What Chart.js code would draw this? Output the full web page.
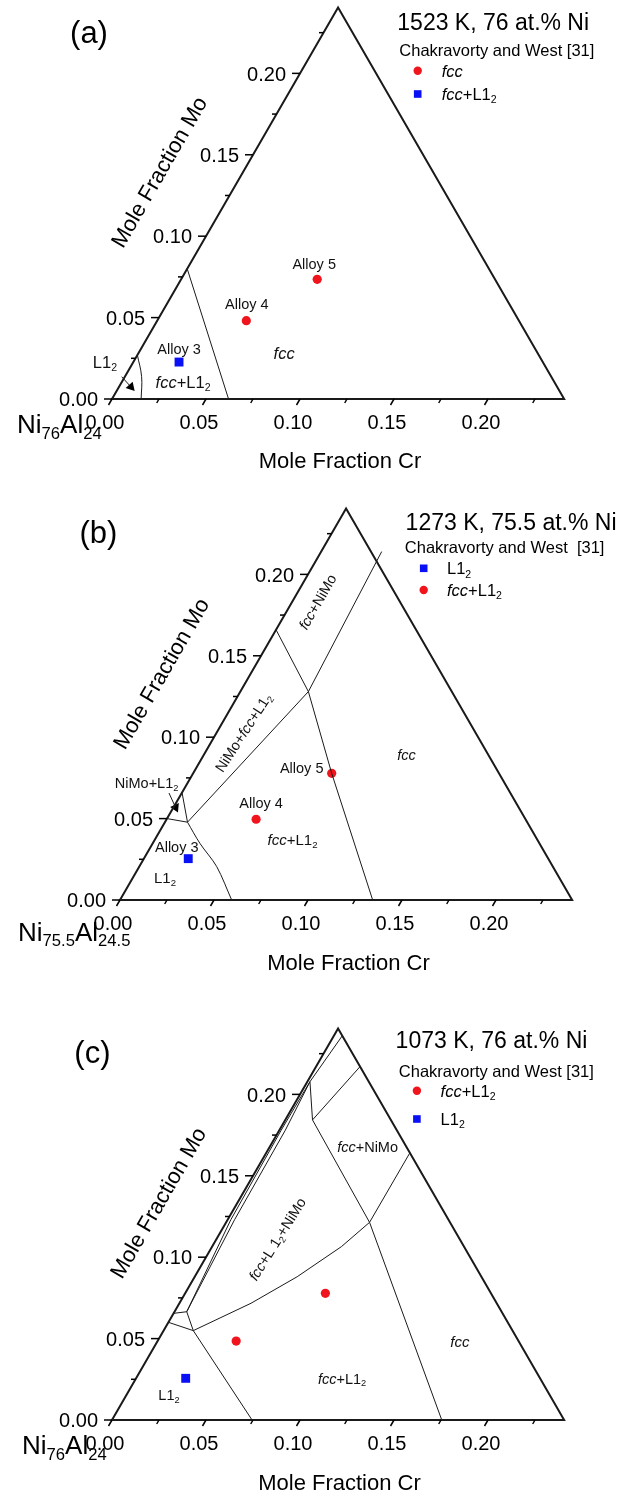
<!DOCTYPE html>
<html>
<head>
<meta charset="utf-8">
<title>Ni-Al-Cr-Mo isopleths</title>
<script src="https://cdn.jsdelivr.net/npm/chart.js@4.4.0/dist/chart.umd.min.js"></script>
<style>
  html, body { margin: 0; padding: 0; background: #fff; }
  #page { position: relative; width: 630px; height: 1493px; overflow: hidden; }
  .panel { position: absolute; left: 0; width: 630px; }
</style>
</head>
<body>
<div id="page">
  <div class="panel" style="top:0;height:490px"><canvas id="chartA"></canvas></div>
  <div class="panel" style="top:490px;height:500px"><canvas id="chartB"></canvas></div>
  <div class="panel" style="top:990px;height:503px"><canvas id="chartC"></canvas></div>
</div>
<script>
// Ternary sections at fixed Ni: bottom = mole fraction Cr, left side = mole fraction Mo

const SQ3 = Math.sqrt(3);
const PX = 1880;          // pixels per unit mole fraction
const SIDE = 0.2405;      // length of the triangle side
const FONT = 'Arial, "Liberation Sans", Helvetica, sans-serif';

const majorTicks = [0, 0.05, 0.10, 0.15, 0.20];
const minorTicks = [0.025, 0.075, 0.125, 0.175, 0.225];
const tickLabels = ['0.00', '0.05', '0.10', '0.15', '0.20'];
const alloyNames = ['Alloy 3', 'Alloy 4', 'Alloy 5'];

// (a) 1523 K, 76 at.% Ni
const crA = [0.0243, 0.0474, 0.0724];
const moA = [0.0227, 0.0481, 0.0735];
const lineA1 = [[0, 0.080], [0.062, 0]];
const lineA2 = [[0, 0.027], [0.0089, 0.0137], [0.0155, 0]];
const arrowA = [[-0.0017, 0.0137], [0.0064, 0.0074]];

// (b) 1273 K, 75.5 at.% Ni
const crB = [0.0236, 0.0476, 0.0737];
const moB = [0.0254, 0.0496, 0.0778];
const lineB1 = [[0, 0.166], [0.0362, 0.128], [0.0737, 0.0778], [0.1344, 0]];
const lineB2 = [[0.012, 0.0478], [0.0362, 0.128], [0.0322, 0.214]];
const lineB3 = [[0.012, 0.0478], [0, 0.050]];
const lineB4 = [[0.012, 0.0478], [0, 0.066]];
const lineB5 = [[0.012, 0.0478], [0.0251, 0.0348], [0.0412, 0.0205], [0.0594, 0]];
const arrowB = [[-0.0068, 0.0657], [0.0012, 0.0568]];

// (c) 1073 K, 76 at.% Ni
const crC = [0.0264, 0.0418, 0.0746];
const moC = [0.0256, 0.0485, 0.0778];
const lineC1 = [[0, 0.0655], [0.0065, 0.0665]];
const lineC2 = [[0, 0.060], [0.0158, 0.0549]];
const lineC3 = [[0.0158, 0.0549], [0.0065, 0.0665]];
const lineC4 = [[0.0158, 0.0549], [0.0745, 0]];
const lineC5 = [[0.0158, 0.0549], [0.0381, 0.0717], [0.0545, 0.088], [0.0688, 0.1065], [0.0763, 0.1214]];
const lineC6 = [[0.0763, 0.1214], [0.0764, 0.1638]];
const lineC7 = [[0.0145, 0.1843], [0.0763, 0.1214], [0.1754, 0]];
const lineC8 = [[0.0145, 0.1843], [0.0234, 0.217]];
const lineC9 = [[0.0145, 0.1843], [0.0014, 0.2078]];
const lineC10 = [[0.0014, 0.2078], [0.0045, 0.236]];
const lineC11 = [[0.0065, 0.0665], [0.0017, 0.123], [0.001, 0.178], [0.0014, 0.2078]];
const lineC12 = [[0.0065, 0.0665], [0.0037, 0.123], [0.0032, 0.178], [0.0014, 0.2078]];

function toXY(cr, mo) {
  return { x: cr + mo / 2, y: mo * SQ3 / 2 };
}

function lineSet(pts, width, smooth) {
  return {
    data: pts.map(([c, m]) => toXY(c, m)),
    showLine: true,
    borderColor: '#1a1a1a',
    borderWidth: width || 1,
    borderJoinStyle: 'miter',
    pointRadius: 0,
    tension: smooth || 0,
  };
}

function arrowSet(pts) {
  const a = toXY(...pts[0]);
  const b = toXY(...pts[1]);
  const rot = Math.atan2(b.x - a.x, b.y - a.y) * 180 / Math.PI;
  return {
    data: [a, b],
    showLine: true,
    borderColor: '#1a1a1a',
    borderWidth: 1,
    pointStyle: 'triangle',
    pointRadius: [0, 5.5],
    pointRotation: [0, rot],
    pointBackgroundColor: '#000',
    pointBorderWidth: 0,
  };
}

function alloySet(cr, mo, idx, red) {
  return {
    data: idx.map(i => toXY(cr[i], mo[i])),
    showLine: false,
    pointStyle: red ? 'circle' : 'rect',
    pointRadius: red ? 4.6 : 6.3,
    pointBackgroundColor: red ? '#f0141c' : '#0a10f5',
    pointBorderWidth: 0,
  };
}

// "*x*" = italic, "_2" or "_{75.5}" = subscript
function parseRich(s) {
  const out = [];
  let it = false;
  let i = 0;
  while (i < s.length) {
    const ch = s[i];
    if (ch === '*') { it = !it; i++; continue; }
    if (ch === '_') {
      let t;
      if (s[i + 1] === '{') {
        const j = s.indexOf('}', i);
        t = s.slice(i + 2, j);
        i = j + 1;
      } else {
        t = s[i + 1];
        i += 2;
      }
      out.push({ t, it, sub: true });
      continue;
    }
    const last = out[out.length - 1];
    if (last && !last.sub && last.it === it) last.t += ch;
    else out.push({ t: ch, it, sub: false });
    i++;
  }
  return out;
}

function rich(ctx, str, x, y, size, align, angle, color) {
  const parts = parseRich(str);
  const fontOf = p => (p.it ? 'italic ' : '') + (p.sub ? size * 0.64 : size) + 'px ' + FONT;
  let w = 0;
  parts.forEach(p => { ctx.font = fontOf(p); p.w = ctx.measureText(p.t).width; w += p.w; });
  ctx.save();
  ctx.translate(x, y);
  if (angle) ctx.rotate(angle * Math.PI / 180);
  ctx.fillStyle = color || '#000';
  ctx.textAlign = 'left';
  ctx.textBaseline = 'alphabetic';
  let cx = align === 'center' ? -w / 2 : align === 'right' ? -w : 0;
  const base = size * 0.36;
  parts.forEach(p => {
    ctx.font = fontOf(p);
    ctx.fillText(p.t, cx, base + (p.sub ? size * 0.2 : 0));
    cx += p.w;
  });
  ctx.restore();
}

function seg(ctx, x1, y1, x2, y2) {
  ctx.beginPath();
  ctx.moveTo(x1, y1);
  ctx.lineTo(x2, y2);
  ctx.stroke();
}

function decoPlugin(p) {
  return {
    id: 'deco',
    afterDatasetsDraw(chart) {
      const { ctx, scales: { x, y } } = chart;
      const at = (cr, mo) => {
        const q = toXY(cr, mo);
        return [x.getPixelForValue(q.x), y.getPixelForValue(q.y)];
      };
      ctx.save();
      ctx.strokeStyle = '#000';
      ctx.lineWidth = 1.5;

      // Mo ticks, horizontal, outside the left side
      majorTicks.forEach((v, i) => {
        const [tx, ty] = at(0, v);
        seg(ctx, tx - 8, ty, tx, ty);
        rich(ctx, tickLabels[i], tx - 14, ty, 20, 'right');
      });
      minorTicks.forEach(v => {
        const [tx, ty] = at(0, v);
        seg(ctx, tx - 4.5, ty, tx, ty);
      });

      // Cr ticks, slanted like the Mo side, under the base
      majorTicks.forEach((v, i) => {
        const [tx, ty] = at(v, 0);
        seg(ctx, tx, ty, tx - 3.5, ty + 6);
        rich(ctx, tickLabels[i], tx - 7, ty + 23, 20, 'center');
      });
      minorTicks.forEach(v => {
        const [tx, ty] = at(v, 0);
        seg(ctx, tx, ty, tx - 2.3, ty + 4);
      });

      // phase field labels
      p.labels.forEach(l => {
        const [lx, ly] = at(l.cr, l.mo);
        rich(ctx, l.t, lx, ly, l.s, 'center', l.r || 0, '#111');
      });

      // alloy names next to their points
      p.alloyOffsets.forEach((o, i) => {
        const [ax, ay] = at(p.cr[i], p.mo[i]);
        rich(ctx, alloyNames[i], ax + o[0], ay + o[1], 14.5, 'center', 0, '#111');
      });

      // axis titles and corner composition
      rich(ctx, 'Mole Fraction Mo', p.moTitle[0], p.moTitle[1], 22, 'center', -60);
      rich(ctx, 'Mole Fraction Cr', p.crTitle[0], p.crTitle[1], 22, 'center');
      rich(ctx, p.corner, p.cornerPos[0], p.cornerPos[1], 26, 'left');

      // panel tag, condition and legend
      rich(ctx, p.tag, p.tagPos[0], p.tagPos[1], 31, 'center');
      rich(ctx, p.title, p.titlePos[0], p.titlePos[1], 23, 'left');
      rich(ctx, p.source, p.sourcePos[0], p.sourcePos[1], 16.5, 'left');
      p.legend.forEach(e => {
        if (e.red) {
          ctx.fillStyle = '#f0141c';
          ctx.beginPath();
          ctx.arc(p.legendX, e.y, 4.2, 0, Math.PI * 2);
          ctx.fill();
        } else {
          ctx.fillStyle = '#0a10f5';
          ctx.fillRect(p.legendX - 3.8, e.y - 3.8, 7.6, 7.6);
        }
        rich(ctx, e.t, p.legendText, e.y, 16.5, 'left');
      });
      ctx.restore();
    }
  };
}

const panels = [
  {
    id: 'chartA', ox: 112, oy: 399, w: 630, h: 490,
    cr: crA, mo: moA,
    lines: [{ pts: lineA1 }, { pts: lineA2, smooth: 0.4 }],
    arrows: [arrowA],
    labels: [
      { t: 'L1_2', cr: -0.0151, mo: 0.0227, s: 16.5 },
      { t: '*fcc*+L1_2', cr: 0.0326, mo: 0.0104, s: 16.5 },
      { t: '*fcc*', cr: 0.0774, mo: 0.0283, s: 16.5 },
    ],
    alloyOffsets: [[0, -13.5], [0.5, -16.5], [-3, -16]],
    moTitle: [158.6, 171.7], crTitle: [340, 460],
    corner: 'Ni_{76}Al_{24}', cornerPos: [17, 424],
    tag: '(a)', tagPos: [89, 31.7],
    title: '1523 K, 76 at.% Ni', titlePos: [397.3, 21.7],
    source: 'Chakravorty and West [31]', sourcePos: [399.3, 50],
    legendX: 417.7, legendText: 441.7,
    legend: [{ red: true, t: '*fcc*', y: 70.7 }, { red: false, t: '*fcc*+L1_2', y: 94 }],
  },
  {
    id: 'chartB', ox: 120, oy: 410, w: 630, h: 500,
    cr: crB, mo: moB,
    lines: [{ pts: lineB1 }, { pts: lineB2 }, { pts: lineB3 }, { pts: lineB4 }, { pts: lineB5, smooth: 0.3 }],
    arrows: [arrowB],
    labels: [
      { t: '*fcc*+NiMo', cr: 0.0134, mo: 0.1832, s: 14.5, r: -60 },
      { t: 'NiMo+*fcc*+L1_2', cr: 0.014, mo: 0.1029, s: 14.5, r: -57 },
      { t: 'NiMo+L1_2', cr: -0.0218, mo: 0.0719, s: 14.5 },
      { t: 'L1_2', cr: 0.017, mo: 0.0139, s: 15 },
      { t: '*fcc*+L1_2', cr: 0.0731, mo: 0.0373, s: 15 },
      { t: '*fcc*', cr: 0.1078, mo: 0.0891, s: 14.5 },
    ],
    alloyOffsets: [[-11.5, -11.5], [5, -16], [-30, -6]],
    moTitle: [160.6, 183.3], crTitle: [348.5, 471.7],
    corner: 'Ni_{75.5}Al_{24.5}', cornerPos: [18, 441.7],
    tag: '(b)', tagPos: [98.4, 41.7],
    title: '1273 K, 75.5 at.% Ni', titlePos: [405.6, 31.7],
    source: 'Chakravorty and West  [31]', sourcePos: [404.8, 57.3],
    legendX: 423.7, legendText: 447,
    legend: [{ red: false, t: 'L1_2', y: 78.3 }, { red: true, t: '*fcc*+L1_2', y: 100 }],
  },
  {
    id: 'chartC', ox: 112, oy: 430, w: 630, h: 503,
    cr: crC, mo: moC,
    lines: [lineC1, lineC2, lineC3, lineC4, lineC5, lineC6, lineC7, lineC8, lineC9, lineC10, lineC11, lineC12]
      .map(pts => ({ pts })),
    arrows: [],
    labels: [
      { t: '*fcc*+NiMo', cr: 0.052, mo: 0.1679, s: 14.5 },
      { t: '*fcc*+L 1_2+NiMo', cr: 0.0322, mo: 0.1112, s: 14.5, r: -58 },
      { t: 'L1_2', cr: 0.0226, mo: 0.0154, s: 14.5 },
      { t: '*fcc*+L1_2', cr: 0.1096, mo: 0.0256, s: 14.5 },
      { t: '*fcc*', cr: 0.161, mo: 0.0481, s: 15 },
    ],
    alloyOffsets: [],
    moTitle: [157.6, 212.5], crTitle: [339.5, 491.7],
    corner: 'Ni_{76}Al_{24}', cornerPos: [22, 455],
    tag: '(c)', tagPos: [92.4, 61.7],
    title: '1073 K, 76 at.% Ni', titlePos: [395.6, 50],
    source: 'Chakravorty and West [31]', sourcePos: [398.8, 80.7],
    legendX: 416.9, legendText: 440.6,
    legend: [{ red: true, t: '*fcc*+L1_2', y: 100.7 }, { red: false, t: 'L1_2', y: 129 }],
  },
];

function makeChart(p) {
  const frame = [[0, 0], [SIDE, 0], [0, SIDE], [0, 0], [SIDE / 2, 0]];
  const datasets = [
    lineSet(frame, 2),
    ...p.lines.map(l => lineSet(l.pts, 1, l.smooth)),
    ...p.arrows.map(arrowSet),
    alloySet(p.cr, p.mo, [1, 2], true),
    alloySet(p.cr, p.mo, [0], false),
  ];
  new Chart(document.getElementById(p.id), {
    type: 'scatter',
    data: { datasets },
    options: {
      responsive: true,
      maintainAspectRatio: false,
      animation: false,
      layout: { padding: 0, autoPadding: false },
      plugins: { legend: { display: false }, tooltip: { enabled: false } },
      scales: {
        x: { type: 'linear', display: false, min: -p.ox / PX, max: (p.w - p.ox) / PX },
        y: { type: 'linear', display: false, min: (p.oy - p.h) / PX, max: p.oy / PX },
      },
    },
    plugins: [decoPlugin(p)],
  });
}

panels.forEach(makeChart);
</script>
</body>
</html>
